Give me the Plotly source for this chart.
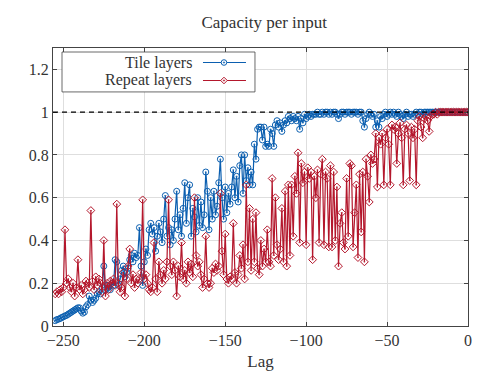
import plotly.graph_objects as go

# lags -255 .. 0
lags = list(range(-255, 1))

tile_layers = [
    0.025, 0.03, 0.032, 0.035, 0.04, 0.043, 0.047, 0.05, 0.055, 0.06,
    0.065, 0.07, 0.075, 0.08, 0.085, 0.085, 0.07, 0.06, 0.065, 0.09,
    0.1, 0.14, 0.12, 0.11, 0.12, 0.13, 0.15, 0.16, 0.15, 0.18,
    0.28, 0.17, 0.19, 0.18, 0.17, 0.2, 0.19, 0.31, 0.3, 0.19,
    0.22, 0.26, 0.28, 0.23, 0.25, 0.27, 0.31, 0.33, 0.3, 0.34,
    0.32, 0.33, 0.46, 0.28, 0.19, 0.3, 0.36, 0.33, 0.45, 0.48,
    0.43, 0.46, 0.35, 0.42, 0.48, 0.44, 0.39, 0.5, 0.61, 0.42,
    0.46, 0.38, 0.45, 0.4, 0.5, 0.63, 0.45, 0.52, 0.42, 0.55,
    0.67, 0.48, 0.6, 0.66, 0.42, 0.55, 0.51, 0.44, 0.6, 0.47,
    0.58, 0.46, 0.52, 0.72, 0.63, 0.45, 0.6, 0.5, 0.63, 0.52,
    0.56, 0.67, 0.78, 0.6, 0.5, 0.65, 0.53, 0.62, 0.57, 0.65,
    0.73, 0.6, 0.7, 0.58, 0.75, 0.8, 0.62, 0.8, 0.68, 0.74,
    0.66, 0.72, 0.66, 0.85, 0.78, 0.92, 0.93, 0.93, 0.87, 0.93,
    0.84, 0.85, 0.84, 0.92, 0.9, 0.84, 0.94, 0.96, 0.93, 0.95,
    0.91, 0.94, 0.96, 0.95, 0.98, 0.97, 0.96, 0.98, 0.97, 0.96,
    0.98, 0.92, 0.97, 0.95, 0.99, 0.97, 0.98, 0.99, 0.98, 0.99,
    0.99, 0.99, 1.0, 0.99, 0.99, 1.0, 0.99, 1.0, 1.0, 0.99,
    1.0, 0.99, 1.0, 1.0, 0.99, 0.97, 0.99, 1.0, 1.0, 0.99,
    1.0, 1.0, 1.0, 0.99, 1.0, 1.0, 1.0, 0.99, 1.0, 1.0,
    0.96, 0.93, 0.97, 0.99, 1.0, 0.99, 0.98, 0.99, 0.93, 0.96,
    0.93, 0.98, 0.97, 0.99, 1.0, 0.98, 0.99, 1.0, 0.99, 1.0,
    0.99, 0.98, 1.0, 0.99, 0.98, 0.97, 0.99, 1.0, 0.98, 0.99,
    0.99, 0.98, 0.99, 1.0, 0.99, 1.0, 1.0, 0.99, 1.0, 1.0,
    1.0, 1.0, 1.0, 1.0, 1.0, 1.0, 1.0, 1.0, 1.0, 1.0,
    1.0, 1.0, 1.0, 1.0, 1.0, 1.0, 1.0, 1.0, 1.0, 1.0,
    1.0, 1.0, 1.0, 1.0, 1.0, 1.0,
]

repeat_layers = [
    0.15, 0.16, 0.15, 0.17, 0.16, 0.18, 0.45, 0.2, 0.22, 0.18,
    0.16, 0.2, 0.14, 0.18, 0.31, 0.17, 0.19, 0.15, 0.17, 0.21,
    0.2, 0.18, 0.54, 0.21, 0.17, 0.23, 0.19, 0.22, 0.2, 0.16,
    0.4, 0.14, 0.2, 0.17, 0.21, 0.2, 0.22, 0.19, 0.57, 0.2,
    0.16, 0.18, 0.25, 0.14, 0.22, 0.28, 0.36, 0.2, 0.24, 0.18,
    0.22, 0.2, 0.22, 0.25, 0.59, 0.22, 0.24, 0.2, 0.17, 0.16,
    0.18, 0.39, 0.22, 0.16, 0.3, 0.24, 0.2, 0.26, 0.22, 0.3,
    0.59, 0.28, 0.24, 0.3, 0.26, 0.14, 0.28, 0.23, 0.39, 0.22,
    0.26, 0.2, 0.3, 0.25, 0.29, 0.23, 0.6, 0.33, 0.28, 0.3,
    0.24, 0.18, 0.22, 0.42, 0.2, 0.18, 0.2, 0.27, 0.25, 0.29,
    0.26, 0.28, 0.62, 0.35, 0.24, 0.43, 0.22, 0.2, 0.23, 0.22,
    0.48, 0.25, 0.2, 0.24, 0.33, 0.27, 0.38, 0.22, 0.66, 0.3,
    0.55, 0.26, 0.5, 0.3, 0.53, 0.27, 0.24, 0.4, 0.28, 0.36,
    0.3, 0.45, 0.3, 0.28, 0.69, 0.33, 0.6, 0.38, 0.31, 0.36,
    0.55, 0.3, 0.63, 0.28, 0.66, 0.33, 0.66, 0.42, 0.7, 0.62,
    0.81, 0.39, 0.76, 0.67, 0.72, 0.38, 0.74, 0.69, 0.72, 0.31,
    0.7, 0.6, 0.73, 0.39, 0.71, 0.78, 0.38, 0.72, 0.69, 0.37,
    0.75, 0.37, 0.72, 0.4, 0.65, 0.28, 0.48, 0.53, 0.39, 0.36,
    0.69, 0.42, 0.76, 0.75, 0.37, 0.53, 0.66, 0.32, 0.71, 0.44,
    0.72, 0.3, 0.78, 0.7, 0.58, 0.8, 0.76, 0.78, 0.9, 0.65,
    0.88, 0.85, 0.9, 0.66, 0.88, 0.92, 0.85, 0.66, 0.94, 0.92,
    0.93, 0.76, 0.9, 0.95, 0.88, 0.66, 0.92, 0.94, 0.9, 0.68,
    0.93, 0.88, 0.92, 0.66, 0.96, 0.98, 0.93, 0.88, 0.97, 0.98,
    0.96, 0.91, 0.98, 0.99, 0.99, 1.0, 0.99, 1.0, 1.0, 1.0,
    1.0, 1.0, 1.0, 1.0, 1.0, 1.0, 1.0, 1.0, 1.0, 1.0,
    1.0, 1.0, 1.0, 1.0, 1.0, 1.0,
]

series_names = ["Tile layers", "Repeat layers"]

BLUE = "#0b5fb0"
RED = "#b4172c"
FONT = "Liberation Serif"
TXT = "#333"

fig = go.Figure()

for name, vals, color, sym in [
    (series_names[0], tile_layers, BLUE, "circle-open-dot"),
    (series_names[1], repeat_layers, RED, "diamond-open-dot"),
]:
    fig.add_trace(go.Scatter(
        x=lags, y=vals, name=name, mode="lines+markers",
        line=dict(color=color, width=1.2),
        marker=dict(symbol=sym, size=6, color=color, line=dict(width=1, color=color)),
        showlegend=False,
    ))

# dashed reference line at capacity 1
fig.add_shape(type="line", xref="paper", x0=0, x1=1, yref="y", y0=1, y1=1,
              line=dict(color="black", width=1.2, dash="5px,4px"), layer="above")

# hand-made legend: text on the left, sample on the right
fig.add_shape(type="rect", xref="paper", yref="paper", x0=0.0217, x1=0.4867,
              y0=0.842, y1=0.9856, line=dict(color="#444", width=0.8),
              fillcolor="white", layer="above")
rows = [0.9478, 0.8831]
for name, color, ypos, is_circle in [
    (series_names[0], BLUE, rows[0], True),
    (series_names[1], RED, rows[1], False),
]:
    fig.add_annotation(xref="paper", yref="paper", x=0.337, y=ypos, text=name,
                       showarrow=False, xanchor="right", yanchor="middle", borderpad=0,
                       font=dict(family=FONT, size=16, color=TXT))
    fig.add_shape(type="line", xref="paper", yref="paper", x0=0.3614, x1=0.465,
                  y0=ypos, y1=ypos, line=dict(color=color, width=1.2), layer="above")
    if is_circle:
        fig.add_shape(type="circle", xref="paper", yref="paper",
                      xsizemode="pixel", ysizemode="pixel", xanchor=0.412, yanchor=ypos,
                      x0=-2.8, x1=2.8, y0=-2.8, y1=2.8,
                      line=dict(color=color, width=1), fillcolor="white", layer="above")
    else:
        fig.add_shape(type="path", xref="paper", yref="paper",
                      xsizemode="pixel", ysizemode="pixel", xanchor=0.412, yanchor=ypos,
                      path="M 0 3.3 L 3.3 0 L 0 -3.3 L -3.3 0 Z",
                      line=dict(color=color, width=1), fillcolor="white", layer="above")
    fig.add_shape(type="circle", xref="paper", yref="paper",
                  xsizemode="pixel", ysizemode="pixel", xanchor=0.412, yanchor=ypos,
                  x0=-0.7, x1=0.7, y0=-0.7, y1=0.7,
                  line=dict(color=color, width=0.5), fillcolor=color, layer="above")

axis_common = dict(
    showline=True, linecolor="#444", linewidth=1, mirror="ticks",
    ticks="inside", ticklen=4, tickcolor="#444",
    showgrid=True, gridcolor="#dedede", gridwidth=1, zeroline=False,
    tickfont=dict(family=FONT, size=16, color=TXT),
)

fig.update_xaxes(range=[-256.4, 0], dtick=50, tick0=0,
                 title=dict(text="Lag", font=dict(family=FONT, size=17, color=TXT), standoff=6),
                 **axis_common)
fig.update_yaxes(range=[0, 1.3], dtick=0.2, tick0=0, **axis_common)

# page body has an 8px margin, so the figure is shrunk to fit the window
fig.update_layout(
    width=490, height=370,
    margin=dict(l=45, r=30, t=40, b=52),
    paper_bgcolor="white", plot_bgcolor="white",
    title=dict(text="Capacity per input", x=0.523, xanchor="center",
               y=0.962, yanchor="middle",
               font=dict(family=FONT, size=17, color=TXT)),
    font=dict(family=FONT, color=TXT),
)

fig.write_html("out.html")
